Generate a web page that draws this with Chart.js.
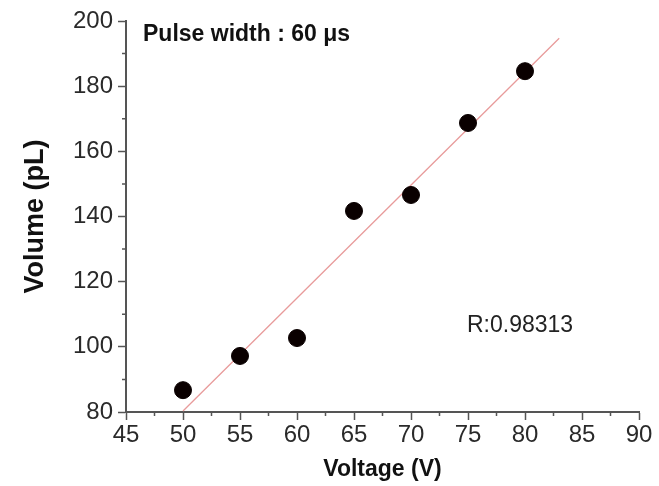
<!DOCTYPE html>
<html>
<head>
<meta charset="utf-8">
<script src="https://cdn.jsdelivr.net/npm/chart.js@4.4.1/dist/chart.umd.min.js"></script>
<style>
  html, body { margin: 0; padding: 0; background: #fff; }
  #wrap { width: 659px; height: 486px; }
</style>
</head>
<body>
<div id="wrap"><canvas id="volumeChart"></canvas></div>
<script>
'use strict';
const voltages = [50, 55, 60, 65, 70, 75, 80];
const volumes = [86.7, 97.2, 102.7, 141.7, 146.6, 168.7, 184.6];

// droite de regression (extremites)
const fitX = [50, 83];
const fitY = [80.3, 194.7];

// graduations secondaires
const xMinorTicks = [47.5, 52.5, 57.5, 62.5, 67.5, 72.5, 77.5, 82.5, 87.5];
const yMinorTicks = [90, 110, 130, 150, 170, 190];

const pulseLabel = 'Pulse width : 60 μs';
const rLabel = 'R:0.98313';

const FONT = '"Liberation Sans", Arial, sans-serif';
const AXIS_COLOR = '#555';

// petites graduations + textes dans le graphe
const extras = {
  id: 'extras',
  afterDraw(chart) {
    const ctx = chart.ctx;
    const x = chart.scales.x;
    const y = chart.scales.y;
    ctx.save();
    ctx.strokeStyle = AXIS_COLOR;
    ctx.lineWidth = 1.5;
    ctx.beginPath();
    xMinorTicks.forEach(v => {
      const px = x.getPixelForValue(v);
      ctx.moveTo(px, x.top);
      ctx.lineTo(px, x.top + 4);
    });
    yMinorTicks.forEach(v => {
      const py = y.getPixelForValue(v);
      ctx.moveTo(y.right, py);
      ctx.lineTo(y.right - 4, py);
    });
    ctx.stroke();

    ctx.fillStyle = '#111';
    ctx.textBaseline = 'middle';
    ctx.textAlign = 'left';
    ctx.font = 'bold 23px ' + FONT;
    ctx.fillText(pulseLabel, 143, 35);
    ctx.font = '23px ' + FONT;
    ctx.fillStyle = '#222';
    ctx.fillText(rLabel, 467, 326);
    ctx.restore();
  }
};

const ctx = document.getElementById('volumeChart').getContext('2d');

const volumeChart = new Chart(ctx, {
  type: 'scatter',
  data: {
    datasets: [
      {
        label: 'Volume',
        data: voltages.map((v, i) => ({ x: v, y: volumes[i] })),
        backgroundColor: '#0a0000',
        borderColor: '#0a0000',
        pointRadius: 8.5,
        pointHoverRadius: 8.5,
        order: 1
      },
      {
        label: 'Fit',
        data: fitX.map((v, i) => ({ x: v, y: fitY[i] })),
        showLine: true,
        borderColor: 'rgb(232, 155, 155)',
        borderWidth: 1.3,
        pointRadius: 0,
        fill: false,
        order: 2
      }
    ]
  },
  options: {
    responsive: true,
    maintainAspectRatio: false,
    animation: false,
    events: [],
    layout: { padding: { top: 21, right: 20, left: 0, bottom: 0 } },
    plugins: {
      legend: { display: false },
      tooltip: { enabled: false }
    },
    scales: {
      x: {
        type: 'linear',
        min: 45,
        max: 90,
        afterFit(scale) { scale.height = 74; },
        ticks: {
          stepSize: 5,
          color: '#2a2a2a',
          padding: 1,
          font: { family: FONT, size: 24 }
        },
        grid: {
          drawOnChartArea: false,
          drawTicks: true,
          tickLength: 8,
          tickColor: AXIS_COLOR,
          tickWidth: 1.5
        },
        border: { display: true, color: AXIS_COLOR, width: 2 },
        title: {
          display: true,
          text: 'Voltage (V)',
          color: '#111',
          font: { family: FONT, size: 23, weight: 'bold' },
          padding: { top: 0, bottom: 3 }
        }
      },
      y: {
        type: 'linear',
        min: 80,
        max: 200,
        afterFit(scale) { scale.width = 126; },
        ticks: {
          stepSize: 20,
          color: '#2a2a2a',
          padding: 5,
          font: { family: FONT, size: 24 }
        },
        grid: {
          drawOnChartArea: false,
          drawTicks: true,
          tickLength: 8,
          tickColor: AXIS_COLOR,
          tickWidth: 1.5
        },
        border: { display: true, color: AXIS_COLOR, width: 2 },
        title: {
          display: true,
          text: 'Volume (pL)',
          color: '#111',
          font: { family: FONT, size: 27, weight: 'bold' },
          padding: { top: 19, bottom: 0 }
        }
      }
    }
  },
  plugins: [extras]
});
</script>
</body>
</html>
